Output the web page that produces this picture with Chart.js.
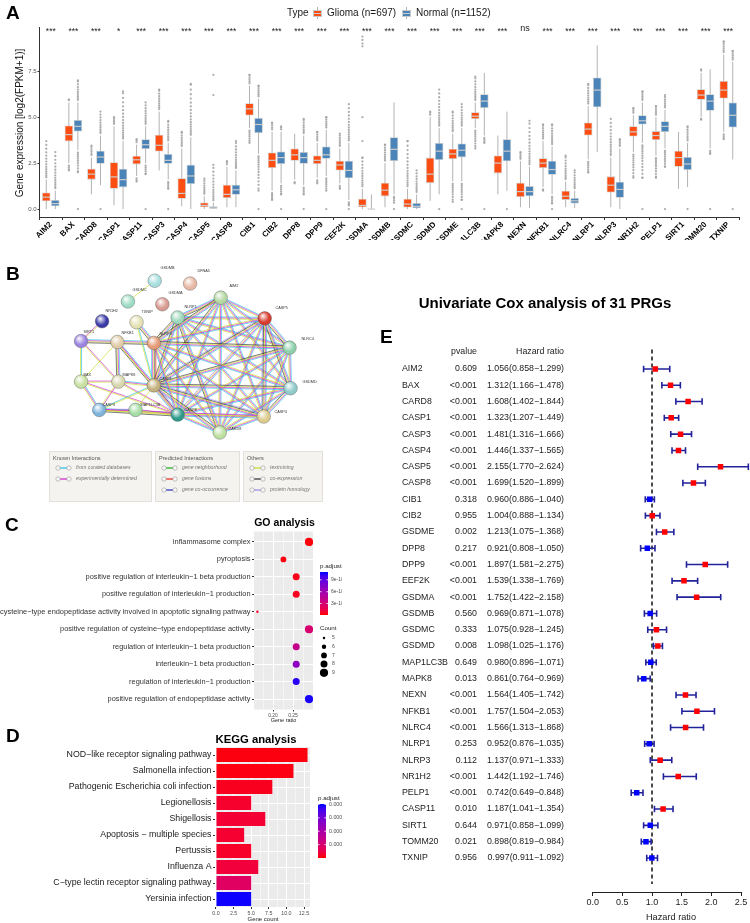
<!DOCTYPE html>
<html>
<head>
<meta charset="utf-8">
<script src="https://cdn.jsdelivr.net/npm/chart.js@4.4.1/dist/chart.umd.min.js"></script>
<style>
  body { margin: 0; width: 750px; height: 923px; position: relative; overflow: hidden; background: #fff;
         font-family: "Liberation Sans", Arial, sans-serif; }
  canvas { position: absolute; }
  .tag { position: absolute; font-size: 19px; font-weight: bold; line-height: 19px; color: #000; }
  .legA { position: absolute; font-size: 10px; line-height: 12px; color: #1a1a1a; white-space: nowrap; }
  .keyA { position: absolute; width: 9px; height: 12px; }
  .keyA i { position: absolute; display: block; }
  .keyA .wh { left: 4px; top: 0; width: 1px; height: 12px; background: #b3b3b3; }
  .keyA .bx { left: 0; top: 3px; width: 7px; height: 5px; border: 1px solid #c9c9c9; }
  .keyA .md { left: 1px; top: 6px; width: 7px; height: 1px; background: #cccccc; }
</style>
</head>
<body>
<canvas id="cA" width="750" height="240" style="left:0;top:0"></canvas>
<canvas id="cB" width="340" height="260" style="left:0;top:245px"></canvas>
<canvas id="cC" width="342" height="225" style="left:0;top:505px"></canvas>
<canvas id="cD" width="342" height="193" style="left:0;top:730px"></canvas>
<canvas id="cE" width="410" height="633" style="left:340px;top:290px"></canvas>

<div class="tag" style="left:6px;top:3px">A</div>
<div class="tag" style="left:6px;top:264px">B</div>
<div class="tag" style="left:5px;top:515px">C</div>
<div class="tag" style="left:6px;top:726px">D</div>
<div class="tag" style="left:380px;top:327px">E</div>

<div class="legA" style="left:287px;top:7px">Type</div>
<div class="keyA" style="left:313px;top:7px"><i class="wh"></i><i class="bx" style="background:#fc4e12"></i><i class="md"></i></div>
<div class="legA" style="left:327px;top:7px">Glioma (n=697)</div>
<div class="keyA" style="left:402px;top:7px"><i class="wh"></i><i class="bx" style="background:#4a84b8"></i><i class="md"></i></div>
<div class="legA" style="left:416px;top:7px">Normal (n=1152)</div>

<script>
Chart.defaults.font.family = '"Liberation Sans", Arial, sans-serif';
Chart.defaults.animation = false;
Chart.defaults.responsive = false;
Chart.defaults.devicePixelRatio = 1;
Chart.defaults.plugins.legend.display = false;
Chart.defaults.plugins.tooltip.enabled = false;

// ---------- A: expression boxplots ----------
const genes = ["AIM2","BAX","CARD8","CASP1","CASP11","CASP3","CASP4","CASP5","CASP8","CIB1","CIB2","DPP8","DPP9","EEF2K","GSDMA","GSDMB","GSDMC","GSDMD","GSDME","MAP1LC3B","MAPK8","NEXN","NFKB1","NLRC4","NLRP1","NLRP3","NR1H2","PELP1","SIRT1","TOMM20","TXNIP"];
const sigLabels = ["***","***","***","*","***","***","***","***","***","***","***","***","***","***","***","***","***","***","***","***","***","ns","***","***","***","***","***","***","***","***","***"];
// [lower whisker, Q1, median, Q3, upper whisker]
const gliomaBox = [
  [0,0.42,0.65,0.9,1.6],[2.5,3.68,4.05,4.55,5.8],[0.8,1.6,1.9,2.2,2.8],[0.2,1.1,1.75,2.55,4.5],
  [1.8,2.43,2.68,2.9,3.5],[2.1,3.13,3.47,4.04,5.3],[0.15,0.56,0.85,1.68,3.3],[0,0.1,0.2,0.36,0.7],
  [0.1,0.6,0.8,1.32,2.3],[4.4,5.09,5.45,5.76,6.7],[1.0,2.23,2.65,3.08,4.2],[1.6,2.63,2.95,3.3,4.1],
  [1.7,2.45,2.65,2.92,3.6],[1.4,2.1,2.4,2.63,3.3],[0,0.1,0.2,0.56,1.1],[0.1,0.69,1.03,1.43,2.5],
  [0,0.09,0.27,0.56,1.1],[0.45,1.41,1.9,2.8,5.0],[1.5,2.72,3.0,3.28,4.1],[4.4,4.9,5.05,5.27,5.8],
  [0.8,1.94,2.5,2.92,4.0],[0.1,0.65,0.95,1.43,2.6],[1.2,2.23,2.5,2.77,3.7],[0.1,0.5,0.7,1.0,1.5],
  [2.7,4.0,4.35,4.71,5.6],[0.1,0.9,1.3,1.78,2.8],[3.1,3.95,4.2,4.5,5.1],[2.9,3.75,4.0,4.24,5.0],
  [1.1,2.3,2.8,3.17,4.2],[5.0,5.94,6.2,6.52,7.4],[4.2,6.01,6.47,6.97,8.4]
];
const normalBox = [
  [0,0.15,0.3,0.5,1.0],[3.2,4.22,4.5,4.85,5.8],[1.3,2.46,2.83,3.17,4.0],[0,1.18,1.6,2.2,3.7],
  [2.5,3.26,3.5,3.8,4.5],[1.6,2.46,2.65,3.0,3.6],[0,1.36,1.8,2.41,3.9],[0,0,0.05,0.15,0.35],
  [0.1,0.78,1.05,1.32,2.1],[3.0,4.13,4.6,4.96,6.0],[1.4,2.45,2.8,3.13,4.2],[1.3,2.46,2.8,3.1,4.0],
  [1.8,2.74,2.95,3.4,4.3],[0.5,1.68,2.1,2.63,3.6],[0,0,0,0.05,0.8],[0.8,2.61,3.25,3.91,5.8],
  [0,0.04,0.15,0.33,0.8],[0.8,2.66,3.15,3.59,4.4],[1.5,2.81,3.2,3.57,4.4],[4.0,5.49,5.87,6.25,7.4],
  [1.0,2.6,3.15,3.8,5.3],[0.05,0.7,0.95,1.25,2.3],[0.8,1.87,2.15,2.63,3.4],[0.05,0.3,0.45,0.6,1.0],
  [3.1,5.54,6.47,7.16,8.9],[0,0.62,1.07,1.49,3.3],[3.6,4.6,4.8,5.1,5.8],[3.3,4.19,4.5,4.78,5.4],
  [1.2,2.12,2.45,2.83,3.6],[3.3,5.34,5.87,6.25,7.6],[2.7,4.44,5.1,5.8,8.0]
];
// [lowest outlier, highest outlier]; null = none
const gliomaOut = [
  [null,3.7],[2.1,5.95],[null,3.45],[null,5.0],[1.5,3.8],[null,6.5],[null,4.2],[null,1.65],[null,2.6],[3.6,7.3],
  [0.5,4.7],[1.4,null],[1.4,4.2],[1.1,4.1],[null,2.8],[null,3.5],[null,3.7],[null,5.3],[0.4,5.3],[3.3,7.2],
  [null,null],[null,3.1],[1.0,4.6],[null,2.9],[2.0,6.8],[null,4.9],[1.7,5.5],[1.7,5.6],[null,null],[4.9,7.6],[3.8,9.1]
];
const normalOut = [
  [null,3.1],[2.0,7.0],[null,5.3],[null,6.4],[1.9,5.8],[1.1,4.8],[null,6.8],[null,2.4],[null,3.7],[1.0,6.7],
  [0.8,4.5],[0.8,4.9],[1.0,5.0],[0.2,5.7],[null,null],[0.35,null],[null,2.1],[null,6.5],[0.5,5.7],[3.6,null],
  [null,null],[null,4.8],[0.3,4.6],[null,2.1],[null,null],[null,3.8],[1.7,6.4],[2.3,6.2],[null,4.5],[3.0,null],[null,8.6]
];
const normalZero = [0,1,1,0,1,1,0,0,0,1,1,1,1,1,0,1,0,1,1,1,1,0,1,0,0,0,1,1,1,1,1];
const extraOut = [["CASP5",1,6.2],["CASP5",1,7.3],["GSDMA",0,3.7],["GSDMA",0,5.0],["GSDMA",0,8.85],["GSDMA",0,9.0],["GSDMA",0,9.2],["GSDMA",0,9.38]];

// ---------- B: STRING network ----------
const nodeNames = ["GSDMB","DFNA5","GSDMC","GSDMA","AIM2","NLRP1","CASP5","NR1H2","TXNIP","SIRT1","NFKB1","NLRP3","NLRC4","BAX","MAPK8","CASP1","GSDMD","CASP3","MAP1LC3B","CASP8","CASP4","CARD8"];
const nodeX = [154,191,126,162,223,178,269,99,135,77,115,153,295,77,116,153,296,96,134,178,268,222];
const nodeY = [275,278,297,300,293,314,315,318,319,339,340,341,346,382,382,386,389,412,412,417,419,436];
const nodeCol = ["#a8dede","#e8b8a4","#9edcc4","#d89a90","#b4d8a4","#9ed8bc","#d83a2c","#3a3aa8","#e4e2b4","#9a84e0","#e0cca8","#e49a74","#8ed0ac","#c8e0a0","#d8d8b0","#c4b27c","#8ecaca","#7eb4dc","#a4dca4","#2e9a8a","#dccb8c","#bce0a0"];
const edgeList = [
  "NLRP1-AIM2:cmyk","NLRP1-CASP5:cmy","NLRP1-NLRC4:cmy","NLRP1-GSDMD:cmy","NLRP1-CASP4:cmy","NLRP1-CARD8:cmyk","NLRP1-CASP8:cmy","NLRP1-CASP1:cmyk","NLRP1-NLRP3:cmyk",
  "AIM2-CASP5:cmy","AIM2-NLRC4:cmy","AIM2-GSDMD:cmy","AIM2-CASP4:cmy","AIM2-CARD8:cmy","AIM2-CASP8:cmy","AIM2-CASP1:cmyk","AIM2-NLRP3:cmyk",
  "CASP5-NLRC4:cmyk","CASP5-GSDMD:cmyk","CASP5-CASP4:cmykp","CASP5-CARD8:cmy","CASP5-CASP8:cmyp","CASP5-CASP1:cmykp","CASP5-NLRP3:cmy",
  "NLRC4-GSDMD:cmy","NLRC4-CASP4:cmy","NLRC4-CARD8:cmy","NLRC4-CASP8:cmy","NLRC4-CASP1:cmyk","NLRC4-NLRP3:cmyk",
  "GSDMD-CASP4:cmyk","GSDMD-CARD8:cmy","GSDMD-CASP8:cmy","GSDMD-CASP1:cmyk","GSDMD-NLRP3:cmy",
  "CASP4-CARD8:cmy","CASP4-CASP8:cmyp","CASP4-CASP1:cmykp","CASP4-NLRP3:cmy",
  "CARD8-CASP8:cmy","CARD8-CASP1:cmyk","CARD8-NLRP3:cmy","CASP8-CASP1:cmykp","CASP8-NLRP3:cmy","CASP1-NLRP3:cmykr",
  "GSDMC-GSDMB:y","SIRT1-NR1H2:my","SIRT1-NFKB1:cmyk","SIRT1-BAX:cy","SIRT1-MAPK8:my",
  "NFKB1-NLRP3:cmyk","NFKB1-CASP1:cmyk","NFKB1-MAPK8:cmyk","NFKB1-CASP8:my","NFKB1-BAX:y",
  "TXNIP-NLRP3:cmyk","TXNIP-CASP1:cy","BAX-MAPK8:my","BAX-CASP3:cmy","BAX-CASP8:my",
  "MAPK8-CASP3:my","MAPK8-CASP8:my","MAPK8-CASP1:cmy","CASP3-MAP1LC3B:my","CASP3-CASP8:cmyk",
  "CASP3-CASP1:cy","CASP3-CASP4:my","MAP1LC3B-CASP8:my","MAP1LC3B-CASP1:y"
];
const edgeColors = { c: "#2fc3e6", m: "#d42ad4", y: "#cbe02a", k: "#3a3a3a", p: "#9b8fe6", r: "#e8342c" };
const stringLegend = [
  { title: "Known Interactions", x0: 49, x1: 152, items: [["from curated databases","#2fc3e6"],["experimentally determined","#d42ad4"]] },
  { title: "Predicted Interactions", x0: 155, x1: 240, items: [["gene neighborhood","#22b022"],["gene fusions","#e8342c"],["gene co-occurrence","#3535c8"]] },
  { title: "Others", x0: 243, x1: 323, items: [["textmining","#cbe02a"],["co-expression","#3a3a3a"],["protein homology","#9b8fe6"]] }
];

// ---------- C: GO dot plot ----------
const goTerms = ["inflammasome complex","pyroptosis","positive regulation of interleukin−1 beta production","positive regulation of interleukin−1 production","cysteine−type endopeptidase activity involved in apoptotic signaling pathway","positive regulation of cysteine−type endopeptidase activity","regulation of interleukin−1 beta production","interleukin−1 beta production","regulation of interleukin−1 production","positive regulation of endopeptidase activity"];
const goRatio = [0.290,0.226,0.258,0.258,0.161,0.290,0.258,0.258,0.258,0.290];
const goCount = [9,7,8,8,5,9,8,8,8,9];
const goPadj = [1.5e-11,2.0e-11,4.0e-11,4.5e-11,7.5e-11,2.8e-10,4.1e-10,6.9e-10,1.05e-9,1.08e-9];
const goLegendTicks = [3e-10,6e-10,9e-10];
const goLegendCounts = [5,6,7,8,9];

// ---------- D: KEGG bars ----------
const keggTerms = ["NOD−like receptor signaling pathway","Salmonella infection","Pathogenic Escherichia coli infection","Legionellosis","Shigellosis","Apoptosis − multiple species","Pertussis","Influenza A","C−type lectin receptor signaling pathway","Yersinia infection"];
const keggCount = [13,11,8,5,7,4,5,6,5,5];
const keggPadj = [1.2e-6,1.5e-6,3.6e-6,7e-6,8.5e-6,7.5e-6,6e-6,1.1e-5,2.4e-5,1.2e-4];
const keggLegendTicks = [0.00003,0.00006,0.00009,0.00012];

// ---------- E: univariate Cox ----------
const coxGenes = ["AIM2","BAX","CARD8","CASP1","CASP3","CASP4","CASP5","CASP8","CIB1","CIB2","GSDME","DPP8","DPP9","EEF2K","GSDMA","GSDMB","GSDMC","GSDMD","MAP1LC3B","MAPK8","NEXN","NFKB1","NLRC4","NLRP1","NLRP3","NR1H2","PELP1","CASP11","SIRT1","TOMM20","TXNIP"];
const coxP = ["0.609","<0.001","<0.001","<0.001","<0.001","<0.001","<0.001","<0.001","0.318","0.955","0.002","0.217","<0.001","<0.001","<0.001","0.560","0.333","0.008","0.649","0.013","<0.001","<0.001","<0.001","0.253","0.112","<0.001","<0.001","0.010","0.644","0.021","0.956"];
const coxHR = [1.056,1.312,1.608,1.323,1.481,1.446,2.155,1.699,0.960,1.004,1.213,0.921,1.897,1.539,1.752,0.969,1.075,1.098,0.980,0.861,1.564,1.757,1.566,0.952,1.137,1.442,0.742,1.187,0.971,0.898,0.997];
const coxLow = [0.858,1.166,1.402,1.207,1.316,1.337,1.770,1.520,0.886,0.888,1.075,0.808,1.581,1.338,1.422,0.871,0.928,1.025,0.896,0.764,1.405,1.504,1.313,0.876,0.971,1.192,0.649,1.041,0.858,0.819,0.911];
const coxHigh = [1.299,1.478,1.844,1.449,1.666,1.565,2.624,1.899,1.040,1.134,1.368,1.050,2.275,1.769,2.158,1.078,1.245,1.176,1.071,0.969,1.742,2.053,1.868,1.035,1.333,1.746,0.848,1.354,1.099,0.984,1.092];

// ---------- helpers ----------
const FONT = '"Liberation Sans", Arial, sans-serif';
const gliomaCol = "#fc4e12", normalCol = "#4a84b8";

function label(chart, s, x, y, font, color, align, base, rot) {
  const c = chart.ctx, cv = chart.canvas;
  c.save();
  c.translate(x - cv.offsetLeft, y - cv.offsetTop);
  if (rot) c.rotate(rot);
  c.font = font + " " + FONT;
  c.fillStyle = color || "#000";
  c.textAlign = align || "left";
  c.textBaseline = base || "middle";
  c.fillText(s, 0, 0);
  c.restore();
}

function padjColor(v, lo, hi) {
  const t = Math.max(0, Math.min(1, (v - lo) / (hi - lo)));
  const r = Math.round(255 * Math.pow(1 - t, 0.6)), b = Math.round(255 * Math.pow(t, 0.6));
  return "rgb(" + r + ",0," + b + ")";
}

function colourBar(chart, x, y0, y1, lo, hi, ticks, fmt, title, fontSize) {
  const c = chart.ctx, ox = chart.canvas.offsetLeft, oy = chart.canvas.offsetTop;
  const g = c.createLinearGradient(0, y0 - oy, 0, y1 - oy);
  for (let k = 0; k <= 10; k++) g.addColorStop(k / 10, padjColor(hi - (hi - lo) * k / 10, lo, hi));
  c.fillStyle = g;
  c.fillRect(x - ox, y0 - oy, 8, y1 - y0);
  label(chart, title, x, y0 - 6, "6.2px", "#222", "left");
  ticks.forEach(v => {
    const py = y1 - (v - lo) / (hi - lo) * (y1 - y0);
    c.strokeStyle = "#fff"; c.lineWidth = 0.8;
    c.beginPath(); c.moveTo(x - ox, py - oy); c.lineTo(x + 1.6 - ox, py - oy);
    c.moveTo(x + 6.4 - ox, py - oy); c.lineTo(x + 8 - ox, py - oy); c.stroke();
    label(chart, fmt(v), x + 11, py, fontSize, "#4d4d4d", "left");
  });
}

const panelBg = {
  id: "panelBg",
  beforeDraw(chart) {
    const a = chart.chartArea;
    chart.ctx.fillStyle = "#ebebeb";
    chart.ctx.fillRect(a.left, a.top, a.right - a.left, a.bottom - a.top);
  }
};

// ---------- chart A ----------
function dotsBetween(ctx, x, yFrom, yTo) {
  const dir = yTo < yFrom ? -1 : 1, total = Math.abs(yTo - yFrom);
  let d = 0;
  while (d <= total) {
    ctx.beginPath(); ctx.arc(x, yFrom + dir * d, 1.15, 0, Math.PI * 2); ctx.fill();
    d += 1.8 + d * 0.07;
  }
  ctx.beginPath(); ctx.arc(x, yTo, 1.15, 0, Math.PI * 2); ctx.fill();
}

const boxPlugin = {
  id: "boxes",
  beforeDatasetsDraw(chart) {
    const ctx = chart.ctx, y = chart.scales.y;
    ctx.save();
    [gliomaBox, normalBox].forEach((stats, d) => {
      const outs = d ? normalOut : gliomaOut;
      chart.getDatasetMeta(d).data.forEach((el, i) => {
        const s = stats[i], o = outs[i];
        ctx.strokeStyle = "#b3b3b3"; ctx.lineWidth = 1;
        ctx.beginPath(); ctx.moveTo(el.x, y.getPixelForValue(s[0])); ctx.lineTo(el.x, y.getPixelForValue(s[4])); ctx.stroke();
        ctx.fillStyle = "rgba(160,160,160,0.85)";
        if (o[1] != null) dotsBetween(ctx, el.x, y.getPixelForValue(s[4]) - 2.5, y.getPixelForValue(o[1]));
        if (o[0] != null) dotsBetween(ctx, el.x, y.getPixelForValue(s[0]) + 2.5, y.getPixelForValue(o[0]));
        if (d === 1 && normalZero[i]) { ctx.beginPath(); ctx.arc(el.x, y.getPixelForValue(0), 1.15, 0, Math.PI * 2); ctx.fill(); }
      });
    });
    extraOut.forEach(([g, d, v]) => {
      const el = chart.getDatasetMeta(d).data[genes.indexOf(g)];
      ctx.beginPath(); ctx.arc(el.x, y.getPixelForValue(v), 1.15, 0, Math.PI * 2); ctx.fill();
    });
    ctx.restore();
  },
  afterDatasetsDraw(chart) {
    const ctx = chart.ctx, y = chart.scales.y;
    ctx.save();
    ctx.strokeStyle = "#cccccc"; ctx.lineWidth = 1.2;
    [gliomaBox, normalBox].forEach((stats, d) => {
      chart.getDatasetMeta(d).data.forEach((el, i) => {
        const py = y.getPixelForValue(stats[i][2]);
        ctx.beginPath(); ctx.moveTo(el.x - el.width / 2 + 0.5, py); ctx.lineTo(el.x + el.width / 2 - 0.5, py); ctx.stroke();
      });
    });
    ctx.restore();
    const x = chart.scales.x;
    sigLabels.forEach((s, i) => {
      label(chart, s, x.getPixelForValue(i), s === "ns" ? 29 : 32, s === "ns" ? "9px" : "8.5px", "#222", "center");
    });
    label(chart, "Gene expression [log2(FPKM+1)]", 20, 123, "10px", "#111", "center", "middle", -Math.PI / 2);
  }
};

new Chart(document.getElementById("cA"), {
  type: "bar",
  data: {
    labels: genes,
    datasets: [
      { data: gliomaBox.map(s => [s[1], s[3]]), backgroundColor: gliomaCol, borderColor: "#c9c9c9", borderWidth: 0.8, borderSkipped: false, categoryPercentage: 0.8, barPercentage: 0.94 },
      { data: normalBox.map(s => [s[1], s[3]]), backgroundColor: normalCol, borderColor: "#c9c9c9", borderWidth: 0.8, borderSkipped: false, categoryPercentage: 0.8, barPercentage: 0.94 }
    ]
  },
  options: {
    layout: { padding: { top: 27, right: 10.5, left: 0, bottom: 0 } },
    scales: {
      x: {
        grid: { drawOnChartArea: false, tickLength: 3, color: "#333" },
        border: { color: "#333" },
        ticks: { autoSkip: false, minRotation: 45, maxRotation: 45, padding: 0, color: "#000", font: { size: 8, weight: "bold" } },
        afterFit: s => { s.height = 23; }
      },
      y: {
        min: -0.43, max: 9.9,
        grid: { drawOnChartArea: false, tickLength: 2, color: "#333" },
        border: { color: "#333" },
        ticks: { padding: 1, color: "#555", font: { size: 6 }, callback: v => v.toFixed(1) },
        afterBuildTicks: s => { s.ticks = [0, 2.5, 5, 7.5].map(v => ({ value: v })); },
        afterFit: s => { s.width = 39.5; }
      }
    }
  },
  plugins: [boxPlugin]
});

// ---------- chart B ----------
const networkPlugin = {
  id: "network",
  beforeDatasetsDraw(chart) {
    const ctx = chart.ctx, sx = chart.scales.x, sy = chart.scales.y;
    ctx.save();
    ctx.globalAlpha = 0.8; ctx.lineWidth = 0.85;
    edgeList.forEach(e => {
      const [pair, kinds] = e.split(":");
      const [a, b] = pair.split("-");
      const ia = nodeNames.indexOf(a), ib = nodeNames.indexOf(b);
      const x1 = sx.getPixelForValue(nodeX[ia]), y1 = sy.getPixelForValue(nodeY[ia]);
      const x2 = sx.getPixelForValue(nodeX[ib]), y2 = sy.getPixelForValue(nodeY[ib]);
      const len = Math.hypot(x2 - x1, y2 - y1), nx = -(y2 - y1) / len, ny = (x2 - x1) / len;
      kinds.split("").forEach((k, j) => {
        const off = (j - (kinds.length - 1) / 2) * 1.05;
        ctx.strokeStyle = edgeColors[k];
        ctx.beginPath(); ctx.moveTo(x1 + nx * off, y1 + ny * off); ctx.lineTo(x2 + nx * off, y2 + ny * off); ctx.stroke();
      });
    });
    ctx.restore();
  },
  afterDatasetsDraw(chart) {
    // glossy highlight on each node
    const ctx = chart.ctx;
    chart.getDatasetMeta(0).data.forEach(el => {
      const g = ctx.createRadialGradient(el.x - 2, el.y - 2.6, 0.2, el.x - 1, el.y - 1.5, 5.5);
      g.addColorStop(0, "rgba(255,255,255,0.95)");
      g.addColorStop(1, "rgba(255,255,255,0)");
      ctx.fillStyle = g;
      ctx.beginPath(); ctx.arc(el.x, el.y, 6.5, 0, Math.PI * 2); ctx.fill();
    });
    nodeNames.forEach((n, i) => label(chart, n, nodeX[i] + 6.5, nodeY[i] - 7, "3.8px", "#333", "left"));
  },
  afterDraw(chart) {
    const c = chart.ctx, ox = chart.canvas.offsetLeft, oy = chart.canvas.offsetTop;
    stringLegend.forEach(sec => {
      c.fillStyle = "#f4f3ef"; c.strokeStyle = "#e2e0d8"; c.lineWidth = 1;
      c.fillRect(sec.x0 - ox, 451 - oy, sec.x1 - sec.x0, 51);
      c.strokeRect(sec.x0 - ox + 0.5, 451 - oy + 0.5, sec.x1 - sec.x0 - 1, 50);
      label(chart, sec.title, sec.x0 + 4, 458, "5.6px", "#555", "left");
      sec.items.forEach(([t, col], j) => {
        const yy = 468 + 11 * j - oy, xa = sec.x0 + 9 - ox, xb = sec.x0 + 20 - ox;
        c.strokeStyle = col; c.lineWidth = 1.3;
        c.beginPath(); c.moveTo(xa, yy); c.lineTo(xb, yy); c.stroke();
        c.strokeStyle = "#9a9a9a"; c.fillStyle = "#f7f7f7"; c.lineWidth = 0.6;
        [xa, xb].forEach(xx => { c.beginPath(); c.arc(xx, yy, 2.2, 0, Math.PI * 2); c.fill(); c.stroke(); });
        label(chart, t, sec.x0 + 27, 468 + 11 * j, "italic 5.2px", "#777", "left");
      });
    });
  }
};

new Chart(document.getElementById("cB"), {
  type: "scatter",
  data: { datasets: [{ data: nodeNames.map((n, i) => ({ x: nodeX[i], y: nodeY[i] })), pointRadius: 6.8, pointBorderWidth: 0.6, pointBorderColor: "rgba(95,95,95,0.7)", pointBackgroundColor: nodeCol }] },
  options: {
    layout: { padding: 0 },
    scales: { x: { display: false, min: 0, max: 340 }, y: { display: false, min: 245, max: 505, reverse: true } }
  },
  plugins: [networkPlugin]
});

// ---------- chart C ----------
const goLo = 1e-11, goHi = 1.1e-9;
const dotRadius = { 5: 1.2, 6: 2.2, 7: 2.9, 8: 3.5, 9: 4.1 };
const isMajor = v => [0.2, 0.25].some(m => Math.abs(v - m) < 1e-9);

new Chart(document.getElementById("cC"), {
  type: "scatter",
  data: { datasets: [{ data: goRatio.map((r, i) => ({ x: r, y: i })), pointRadius: goCount.map(n => dotRadius[n]), pointBorderWidth: 0, pointBackgroundColor: goPadj.map(v => padjColor(v, goLo, goHi)) }] },
  options: {
    layout: { padding: { top: 26.5, right: 29, left: 0, bottom: 0 } },
    scales: {
      x: {
        min: 0.1525, max: 0.30,
        border: { display: false },
        grid: { color: "#fff", lineWidth: c => (c.tick && isMajor(c.tick.value) ? 1 : 0.5), tickLength: 2, tickColor: c => (c.tick && isMajor(c.tick.value) ? "#333" : "rgba(0,0,0,0)") },
        ticks: { autoSkip: false, minRotation: 0, maxRotation: 0, padding: 1, color: "#4d4d4d", font: { size: 5 }, callback: v => (isMajor(v) ? v.toFixed(2) : "") },
        afterBuildTicks: s => { s.ticks = [0.175, 0.2, 0.225, 0.25, 0.275].map(v => ({ value: v })); },
        afterFit: s => { s.height = 20.5; }
      },
      y: {
        min: -0.6, max: 9.6, reverse: true,
        border: { display: false },
        grid: { color: "#fff", lineWidth: 1, tickLength: 2, tickColor: "#333" },
        ticks: { autoSkip: false, padding: 1.5, color: "#333", font: { size: 7.4 }, callback: v => goTerms[v] },
        afterBuildTicks: s => { s.ticks = goTerms.map((t, i) => ({ value: i })); },
        afterFit: s => { s.width = 254; }
      }
    }
  },
  plugins: [panelBg, {
    id: "goDecor",
    afterDraw(chart) {
      label(chart, "GO analysis", 284.5, 523, "bold 10.5px", "#000", "center");
      label(chart, "Gene ratio", 283.5, 720, "5.5px", "#222", "center");
      colourBar(chart, 320, 572, 615, goLo, goHi, goLegendTicks, v => Math.round(v * 1e10) + "e-10", "p.adjust", "5px");
      label(chart, "Count", 320, 628, "6.2px", "#222", "left");
      goLegendCounts.forEach((n, k) => {
        const yy = 638 + 8.7 * k;
        chart.ctx.fillStyle = "#000";
        chart.ctx.beginPath();
        chart.ctx.arc(324 - chart.canvas.offsetLeft, yy - chart.canvas.offsetTop, dotRadius[n], 0, Math.PI * 2);
        chart.ctx.fill();
        label(chart, String(n), 332, yy, "5px", "#4d4d4d", "left");
      });
    }
  }]
});

// ---------- chart D ----------
const keggHi = 1.21e-4;
const isHalf = v => Math.abs(v / 2.5 - Math.round(v / 2.5)) < 1e-9;

new Chart(document.getElementById("cD"), {
  type: "bar",
  data: { labels: keggTerms, datasets: [{ data: keggCount, backgroundColor: keggPadj.map(v => padjColor(v, 0, keggHi)), barPercentage: 0.88, categoryPercentage: 1 }] },
  options: {
    indexAxis: "y",
    layout: { padding: { top: 17, right: 32, left: 0, bottom: 0 } },
    scales: {
      x: {
        min: -0.14, max: 13.35,
        border: { display: false },
        grid: { color: "#fff", lineWidth: c => (c.tick && isHalf(c.tick.value) ? 1 : 0.5), tickLength: 2, tickColor: c => (c.tick && isHalf(c.tick.value) ? "#333" : "rgba(0,0,0,0)") },
        ticks: { autoSkip: false, minRotation: 0, maxRotation: 0, padding: 1, color: "#4d4d4d", font: { size: 5.3 }, callback: v => (isHalf(v) ? v.toFixed(1) : "") },
        afterBuildTicks: s => { s.ticks = [0,1.25,2.5,3.75,5,6.25,7.5,8.75,10,11.25,12.5].map(v => ({ value: v })); },
        afterFit: s => { s.height = 16; }
      },
      y: {
        border: { display: false },
        grid: { color: "#fff", lineWidth: 1, offset: false, tickLength: 2, tickColor: "#333" },
        ticks: { autoSkip: false, padding: 1.5, color: "#1a1a1a", font: { size: 8.8 } },
        afterFit: s => { s.width = 215; }
      }
    }
  },
  plugins: [panelBg, {
    id: "keggDecor",
    afterDraw(chart) {
      label(chart, "KEGG analysis", 256, 740, "bold 11.3px", "#000", "center");
      label(chart, "Gene count", 263, 919, "6px", "#222", "center");
      colourBar(chart, 318, 804, 858, 0, keggHi, keggLegendTicks, v => v.toFixed(5), "p.adjust", "5.3px");
    }
  }]
});

// ---------- chart E ----------
const coxPlugin = {
  id: "cox",
  beforeDatasetsDraw(chart) {
    const ctx = chart.ctx, x = chart.scales.x, y = chart.scales.y, a = chart.chartArea;
    ctx.save();
    ctx.strokeStyle = "#111"; ctx.lineWidth = 1.5; ctx.setLineDash([4, 3]);
    ctx.beginPath(); ctx.moveTo(x.getPixelForValue(1), a.top); ctx.lineTo(x.getPixelForValue(1), y.getPixelForValue(31.6)); ctx.stroke();
    ctx.setLineDash([]);
    ctx.strokeStyle = "#22229a"; ctx.lineWidth = 1.6;
    coxHR.forEach((v, i) => {
      const py = y.getPixelForValue(i), xl = x.getPixelForValue(coxLow[i]), xh = x.getPixelForValue(coxHigh[i]);
      ctx.beginPath();
      ctx.moveTo(xl, py); ctx.lineTo(xh, py);
      ctx.moveTo(xl, py - 3.2); ctx.lineTo(xl, py + 3.2);
      ctx.moveTo(xh, py - 3.2); ctx.lineTo(xh, py + 3.2);
      ctx.stroke();
    });
    ctx.restore();
  },
  afterDraw(chart) {
    const y = chart.scales.y, oy = chart.canvas.offsetTop;
    const hy = y.getPixelForValue(-1.04) + oy;
    label(chart, "pvalue", 477, hy, "8.8px", "#222", "right");
    label(chart, "Hazard ratio", 564, hy, "8.8px", "#222", "right");
    coxGenes.forEach((g, i) => {
      const py = y.getPixelForValue(i) + oy;
      label(chart, g, 402, py, "8.8px", "#222", "left");
      label(chart, coxP[i], 477, py, "8.8px", "#222", "right");
      label(chart, coxHR[i].toFixed(3) + "(" + coxLow[i].toFixed(3) + "−" + coxHigh[i].toFixed(3) + ")", 564, py, "8.8px", "#222", "right");
    });
    label(chart, "Univariate Cox analysis of 31 PRGs", 545, 304, "bold 15px", "#000", "center");
    label(chart, "Hazard ratio", 671, 917, "9.2px", "#222", "center");
  }
};

new Chart(document.getElementById("cE"), {
  type: "scatter",
  data: { datasets: [{ data: coxHR.map((v, i) => ({ x: v, y: i })), pointStyle: "rect", pointRadius: 3.9, pointBorderWidth: 0, pointBackgroundColor: coxHR.map(v => (v > 1 ? "#ff0000" : "#0000ff")) }] },
  options: {
    layout: { padding: { left: 252.7, right: 9, top: 59.4, bottom: 0 } },
    scales: {
      x: {
        min: 0, max: 2.5,
        grid: { drawOnChartArea: false, tickLength: 4, color: "#222" },
        border: { color: "#222", width: 1 },
        ticks: { padding: 1, color: "#222", font: { size: 9 }, callback: v => v.toFixed(1) },
        afterBuildTicks: s => { s.ticks = [0, 0.5, 1, 1.5, 2, 2.5].map(v => ({ value: v })); },
        afterFit: s => { s.height = 31; }
      },
      y: { display: false, min: -1.2, max: 32.09, reverse: true }
    }
  },
  plugins: [coxPlugin]
});
</script>
</body>
</html>
